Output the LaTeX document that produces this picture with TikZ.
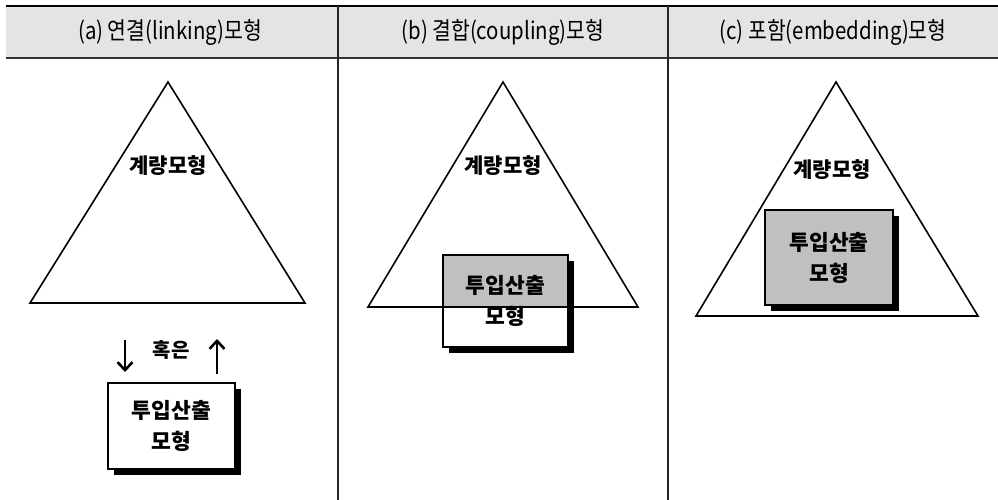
\documentclass[tikz,border=0pt]{standalone}
\usepackage{fontspec}
\newfontfamily\kr{Noto Sans CJK KR}
\newfontfamily\krhead{Noto Sans CJK KR}[FakeStretch=0.85]
\usetikzlibrary{shadows,arrows.meta}
\definecolor{headgray}{HTML}{E4E4E4}
\definecolor{boxgray}{HTML}{C0C0C0}
\tikzset{
  tri/.style={draw=black, line width=1.6pt, fill=white, line join=miter},
  model/.style={draw=black, line width=2pt, fill=white, minimum width=#1,
    inner sep=0pt, align=center, font=\kr\bfseries\fontsize{21.5}{31}\selectfont,
    general shadow={fill=black, shadow xshift=6pt, shadow yshift=-6pt}},
  trilabel/.style={font=\kr\bfseries\fontsize{21}{23}\selectfont, inner sep=0pt},
  headtext/.style={font=\krhead\fontsize{24}{26}\selectfont, inner sep=0pt},
  divider/.style={draw=black!85, line width=2pt},
  flow/.style={line width=2.6pt, -{Straight Barb[length=8pt,width=15pt,line width=2.6pt]}},
}
\begin{document}
\begin{tikzpicture}[x=1pt,y=-1pt]
\useasboundingbox (0,0) rectangle (998,500);
% header
\fill[headgray] (6,6) rectangle (998,58);
\draw[line width=2.2pt] (6,6) -- (998,6);
\draw[line width=2pt, draw=black!80] (6,58) -- (998,58);
\draw[divider] (338,6) -- (338,500);
\draw[divider] (668,6) -- (668,500);
\node[headtext] (ha) at (170,32) {(a) 연결(linking)모형};
\node[headtext] (hb) at (503,32) {(b) 결합(coupling)모형};
\node[headtext] (hc) at (833,32) {(c) 포함(embedding)모형};

% (a)
\coordinate (ta1) at (168,82);
\coordinate (ta2) at (30,303);
\coordinate (ta3) at (305,303);
\draw[tri] (ta1) -- (ta2) -- (ta3) -- cycle;
\node[trilabel] (la) at (168,166) {계량모형};
\node[model=127pt, minimum height=86pt] (ma) at (171.5,426) {투입산출\\모형};
\coordinate (da1) at (125,340);
\coordinate (da2) at (125,372);
\coordinate (ua1) at (217,374);
\coordinate (ua2) at (217,339);
\draw[flow] (da1) -- (da2);
\draw[flow] (ua1) -- (ua2);
\node[font=\kr\bfseries\fontsize{20}{22}\selectfont, inner sep=0pt] (or) at (171,350) {혹은};

% (b)
\coordinate (tb1) at (503,82);
\coordinate (tb2) at (368,307);
\coordinate (tb3) at (638,307);
\fill[white] (tb1) -- (tb2) -- (tb3) -- cycle;
\node[model=125pt, minimum height=92pt,
  path picture={\fill[boxgray] (tb1) -- (tb2) -- (tb3) -- cycle;}] (mb) at (505.5,301) {투입산출\\모형};
\draw[tri, fill=none] (tb1) -- (tb2) -- (tb3) -- cycle;
\node[trilabel] (lb) at (503,166) {계량모형};

% (c)
\coordinate (tc1) at (836,82);
\coordinate (tc2) at (696,316);
\coordinate (tc3) at (978,316);
\draw[tri] (tc1) -- (tc2) -- (tc3) -- cycle;
\node[trilabel] (lc) at (832,170) {계량모형};
\node[model=128pt, minimum height=95pt, fill=boxgray] (mc) at (829,257.5) {투입산출\\모형};
\end{tikzpicture}
\end{document}
